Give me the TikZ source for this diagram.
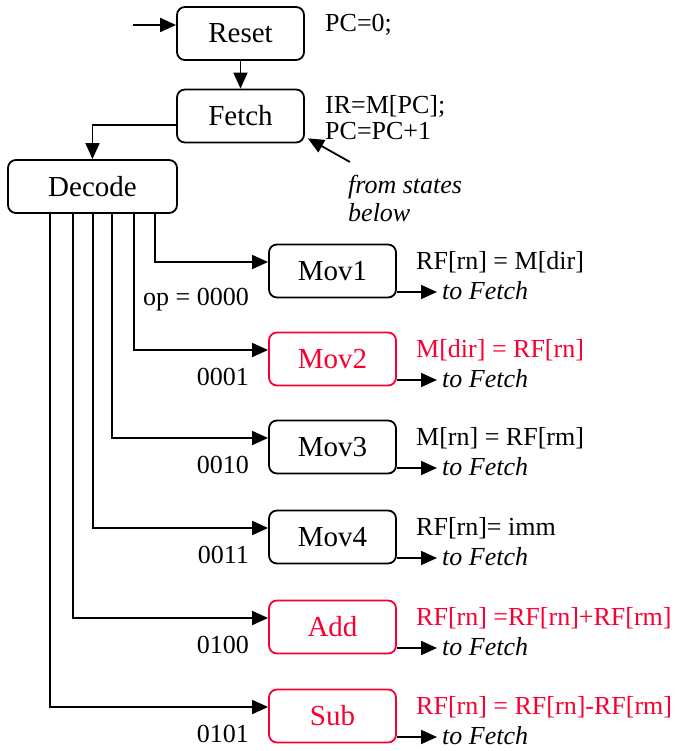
\documentclass[tikz,border=0pt]{standalone}
\usepackage{fontspec}
\setmainfont{Liberation Serif}
\usetikzlibrary{arrows.meta}
\definecolor{opred}{RGB}{250,0,48}

\tikzset{
  state/.style={draw, rounded corners=8pt, line width=1.8pt, minimum width=127pt,
    minimum height=53pt, inner sep=0pt, font=\fontsize{29}{30}\selectfont},
  note/.style={font=\fontsize{26}{26}\selectfont, inner sep=0pt},
  slanted/.style={font=\fontsize{26}{28}\selectfont\itshape, inner sep=0pt},
  flow/.style={line width=1.8pt, -{Triangle[length=16pt,width=14pt]}},
}

\begin{document}
\begin{tikzpicture}[x=1pt,y=-1pt]
  \useasboundingbox (0,0) rectangle (681,751);

  % reset, fetch and decode
  \node[state] (reset) at (240.5,33.5) {Reset};
  \node[state] (fetch) at (240.5,116) {Fetch};
  \node[state, minimum width=169pt] (decode) at (92.5,186.5) {Decode};
  \coordinate (start) at (133,25);
  \draw[flow] (start) -- (start -| reset.west);
  \draw[flow] (reset) -- (fetch);
  \draw[flow] ([yshift=-9pt]fetch.west) -| (decode.north);
  \node[note, anchor=west] (pc0) at (325,25) {PC=0;};
  \node[note, anchor=north west, align=left] (ir) at (325,95) {IR=M[PC];\\PC=PC+1};
  \node[slanted, anchor=north west, align=left] (from) at (348,175) {from states\\below};
  \coordinate (back) at (350,162);
  \draw[flow] (back) -- ([shift={(3,-5)}]fetch.south east);

  % one execute state per opcode
  \foreach \name/\lbl/\op/\bx/\ay/\lift/\col/\act in {
      mov1/Mov1/op = 0000/155/262/43/black/{RF[rn] = M[dir]},
      mov2/Mov2/0001/134/350/35/opred/{M[dir] = RF[rn]},
      mov3/Mov3/0010/112/438/35/black/{M[rn] = RF[rm]},
      mov4/Mov4/0011/93/528/35/black/{RF[rn]= imm},
      add/Add/0100/73/618/35/opred/{RF[rn] =RF[rn]+RF[rm]},
      sub/Sub/0101/50/707/35/opred/{RF[rn] = RF[rn]-RF[rm]}} {
    \node[state, draw=\col, text=\col] (\name) at (332.5,\ay+9) {\lbl};
    \coordinate (\name-x) at (\bx,0);
    \draw[flow] (\name-x |- decode.south) |- ([yshift=9pt]\name.west);
    \node[note, anchor=base east] (\name-op) at (249,\ay+\lift) {\op};
    \node[note, anchor=west, text=\col] (\name-act) at (416,\ay) {\act};
    \coordinate (\name-out) at (437,\ay+30);
    \draw[flow] (\name.east |- \name-out) -- (\name-out);
    \node[slanted, anchor=west] (\name-to) at (442,\ay+29) {to Fetch};
  }
\end{tikzpicture}
\end{document}
